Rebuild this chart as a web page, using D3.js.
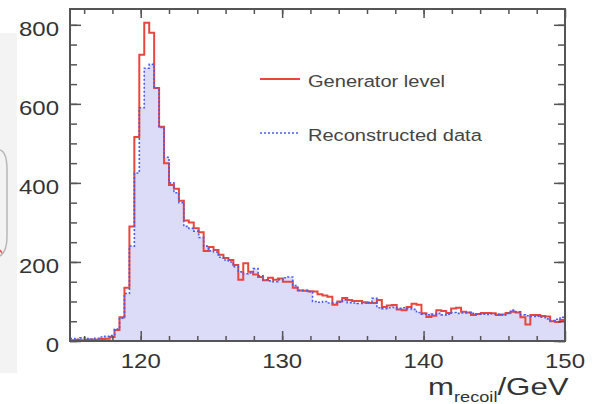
<!DOCTYPE html>
<html>
<head>
<meta charset="utf-8">
<script src="https://cdn.jsdelivr.net/npm/d3@7"></script>
<style>
  body { margin: 0; background: #fff; }
  svg { display: block; font-family: "Liberation Sans", Arial, sans-serif; }
</style>
</head>
<body>
<svg id="chart" width="592" height="404"></svg>
<script>
// histogram binning (100 bins between 115 and 150 GeV)
var binLow = 115, binHigh = 150, nBins = 100;

// generator level counts per bin
var generator = [
  2, 3, 2, 3, 4, 3, 5, 6, 10, 28,
  60, 135, 290, 516, 724, 805, 780, 640, 542, 450,
  395, 385, 355, 305, 300, 285, 275, 228, 238, 230,
  218, 210, 205, 192, 155, 197, 175, 168, 162, 154,
  160, 155, 158, 150, 150, 135, 128, 127, 126, 125,
  118, 115, 112, 92, 100, 109, 104, 101, 101, 98,
  96, 96, 104, 86, 90, 91, 80, 78, 86, 94,
  92, 70, 61, 64, 78, 76, 71, 82, 84, 74,
  72, 66, 68, 71, 71, 70, 66, 67, 71, 74,
  72, 60, 42, 66, 66, 63, 62, 50, 48, 53
];

// reconstructed data counts per bin
var reconstructed = [
  6, 4, 8, 6, 5, 7, 10, 12, 14, 30,
  58, 120, 240, 425, 590, 690, 700, 640, 540, 465,
  400, 375, 350, 290, 285, 278, 262, 240, 228, 225,
  212, 205, 200, 188, 175, 170, 172, 183, 165, 155,
  152, 150, 155, 160, 162, 140, 128, 128, 125, 100,
  98, 100, 96, 96, 98, 104, 97, 96, 95, 96,
  98, 108, 84, 82, 84, 85, 83, 84, 82, 80,
  72, 68, 66, 68, 70, 66, 68, 72, 70, 71,
  72, 70, 68, 68, 67, 69, 68, 66, 70, 78,
  74, 66, 64, 62, 63, 60, 56, 52, 55, 60
];

var xTicks = [120, 130, 140, 150];
var yTicks = [0, 200, 400, 600, 800];
var legendLabels = ["Generator level", "Reconstructed data"];

var svg = d3.select("#chart");
var plotLeft = 70, plotRight = 565, plotTop = 9, plotBottom = 341;

var x = d3.scaleLinear().domain([binLow, binHigh]).range([plotLeft, plotRight]);
var y = d3.scaleLinear().domain([0, 840]).range([plotBottom, plotTop]);

var binW = (binHigh - binLow) / nBins;
function steps(vals) {
  var pts = vals.map(function(v, i) { return [binLow + i * binW, v]; });
  pts.push([binHigh, vals[vals.length - 1]]);
  return pts;
}

// leftover slide decoration on the left edge
svg.append("rect").attr("x", 0).attr("y", 33).attr("width", 17).attr("height", 340).attr("fill", "#f3f3f3");
svg.append("path")
  .attr("d", "M0,150 Q7,152 7,170 L7,236 Q7,252 0,256")
  .attr("fill", "none").attr("stroke", "#b8b8b8").attr("stroke-width", 1.5);
svg.append("path").attr("d", "M0,250 L2,253").attr("stroke", "#e06060").attr("stroke-width", 1.5);

// filled reconstructed histogram
var area = d3.area()
  .curve(d3.curveStepAfter)
  .x(function(d) { return x(d[0]); })
  .y0(y(0))
  .y1(function(d) { return y(d[1]); });

var line = d3.line()
  .curve(d3.curveStepAfter)
  .x(function(d) { return x(d[0]); })
  .y(function(d) { return y(d[1]); });

svg.append("path")
  .datum(steps(reconstructed))
  .attr("d", area)
  .attr("fill", "#dcdcf8");

svg.append("path")
  .datum(steps(generator))
  .attr("d", line)
  .attr("fill", "none")
  .attr("stroke", "#e8463c")
  .attr("stroke-width", 2);

svg.append("path")
  .datum(steps(reconstructed))
  .attr("d", line)
  .attr("fill", "none")
  .attr("stroke", "#4a5cf0")
  .attr("stroke-width", 1.6)
  .attr("stroke-dasharray", "2,2");

// ticks on all four sides, pointing inward
var minorX = d3.range(116, 150, 2);
var minorY = d3.range(0, 840, 50);
function tickAxis(axis, pos, vals, len) {
  var g = svg.append("g").attr("transform", pos)
    .call(axis.tickValues(vals).tickSize(-len).tickFormat(""));
  g.select(".domain").remove();
  g.selectAll("line").attr("stroke", "#555").attr("stroke-width", 1.5);
}
tickAxis(d3.axisBottom(x), "translate(0," + plotBottom + ")", minorX, 5);
tickAxis(d3.axisBottom(x), "translate(0," + plotBottom + ")", xTicks, 10);
tickAxis(d3.axisTop(x), "translate(0," + plotTop + ")", minorX, 5);
tickAxis(d3.axisTop(x), "translate(0," + plotTop + ")", xTicks, 9);
tickAxis(d3.axisLeft(y), "translate(" + plotLeft + ",0)", minorY, 7);
tickAxis(d3.axisLeft(y), "translate(" + plotLeft + ",0)", yTicks, 11);
tickAxis(d3.axisRight(y), "translate(" + plotRight + ",0)", minorY, 7);
tickAxis(d3.axisRight(y), "translate(" + plotRight + ",0)", yTicks, 11);

// frame
svg.append("rect")
  .attr("x", plotLeft).attr("y", plotTop)
  .attr("width", plotRight - plotLeft).attr("height", plotBottom - plotTop)
  .attr("fill", "none").attr("stroke", "#555").attr("stroke-width", 2);

// tick labels (the source picture is stretched sideways)
svg.selectAll(".xlab").data(xTicks).enter().append("text")
  .attr("transform", function(d) { return "translate(" + x(d) + ",368) scale(1.2,1)"; })
  .attr("text-anchor", "middle")
  .attr("font-size", 20).attr("fill", "#333")
  .text(function(d) { return d; });

svg.selectAll(".ylab").data(yTicks).enter().append("text")
  .attr("transform", function(d) { return "translate(59," + (y(d) + 11) + ") scale(1.2,1)"; })
  .attr("text-anchor", "end")
  .attr("font-size", 20).attr("fill", "#333")
  .text(function(d) { return d; });

// axis title
var title = svg.append("text")
  .attr("transform", "translate(428,395) scale(1.3,1)")
  .attr("font-size", 24).attr("fill", "#333");
title.append("tspan").text("m");
title.append("tspan").attr("font-size", 14).attr("dy", 7).text("recoil");
title.append("tspan").attr("dy", -7).text("/GeV");

// legend
var legend = svg.append("g");
legend.append("line").attr("x1", 260).attr("x2", 300).attr("y1", 79).attr("y2", 79)
  .attr("stroke", "#e8463c").attr("stroke-width", 2);
legend.append("line").attr("x1", 260).attr("x2", 300).attr("y1", 133).attr("y2", 133)
  .attr("stroke", "#4a5cf0").attr("stroke-width", 1.6).attr("stroke-dasharray", "2,2");
legend.selectAll("text").data(legendLabels).enter().append("text")
  .attr("transform", function(d, i) { return "translate(308," + (87 + i * 54) + ") scale(1.18,1)"; })
  .attr("font-size", 17).attr("fill", "#444")
  .text(function(d) { return d; });
</script>
</body>
</html>
